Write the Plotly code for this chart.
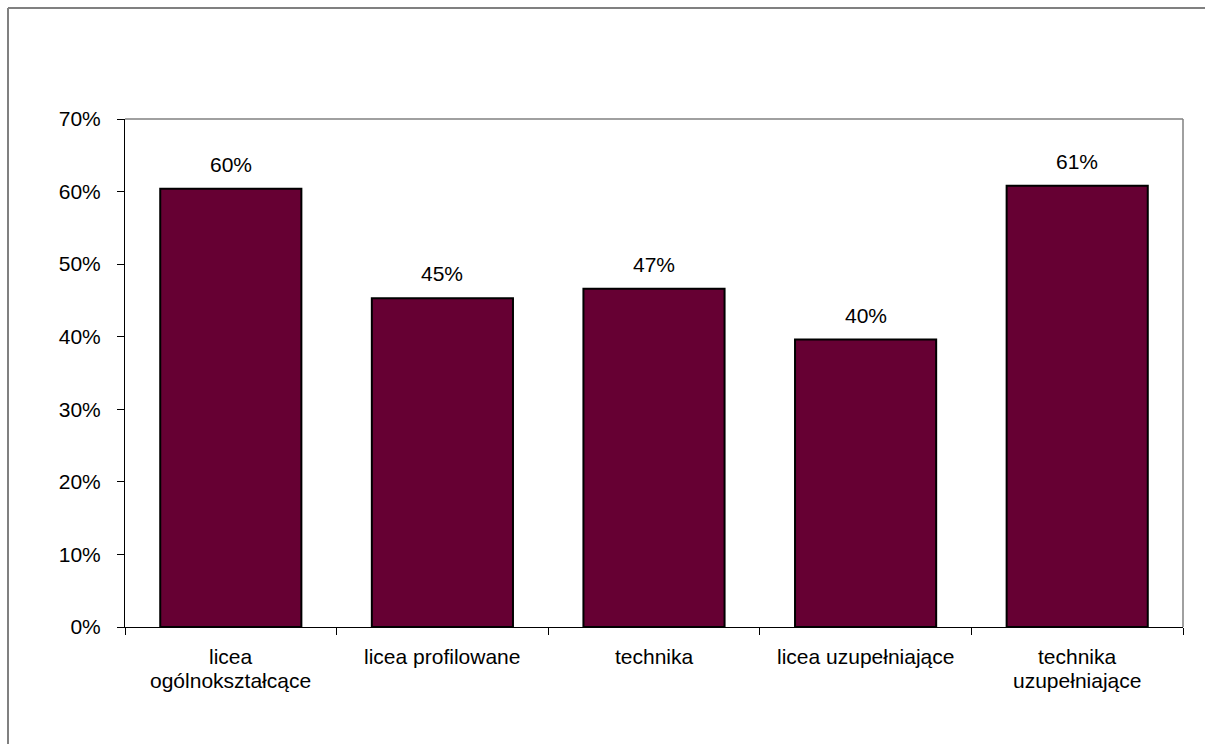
import plotly.graph_objects as go

# Share of students per school type
categories = [
    "licea<br>ogólnokształcące",
    "licea profilowane",
    "technika",
    "licea uzupełniające",
    "technika<br>uzupełniające",
]
shares = [0.604, 0.453, 0.466, 0.396, 0.608]
y_ticks = [0.0, 0.1, 0.2, 0.3, 0.4, 0.5, 0.6, 0.7]

W, H = 1205, 744
ML, MR, MT, MB = 125, 22, 119, 117
PW, PH = W - ML - MR, H - MT - MB

FONT = dict(family="Liberation Sans, Arial, sans-serif", size=21, color="#000000")

fig = go.Figure(
    go.Bar(
        x=categories,
        y=shares,
        marker=dict(color="#660033", line=dict(color="#000000", width=2)),
        width=0.667,
        hoverinfo="skip",
    )
)

# value labels above the bars
for cat, v in zip(categories, shares):
    fig.add_annotation(
        x=cat, y=v, text=f"{round(v * 100)}%", showarrow=False,
        yanchor="bottom", yshift=11, font=FONT,
    )

# category labels below the axis, one annotation per line for tight spacing
LINE_STEP = 24
for cat in categories:
    for i, line in enumerate(cat.split("<br>")):
        fig.add_annotation(
            x=cat, y=0, yref="y", text=line, showarrow=False,
            yanchor="middle", yshift=-(29 + i * LINE_STEP), font=FONT,
        )

def px_x(p):
    return (p - ML) / PW

def px_y(p):
    return (H - MB - p) / PH

shapes = [
    # plot-area frame, top and right edges
    dict(type="line", xref="paper", yref="paper", x0=0, x1=1, y0=1, y1=1,
         line=dict(color="#808080", width=1.5)),
    dict(type="line", xref="paper", yref="paper", x0=1, x1=1, y0=0, y1=1,
         line=dict(color="#808080", width=1.5)),
    # chart-area frame
    dict(type="line", xref="paper", yref="paper", x0=px_x(8), x1=px_x(8),
         y0=px_y(8), y1=px_y(H + 20), line=dict(color="#808080", width=2)),
    dict(type="line", xref="paper", yref="paper", x0=px_x(8), x1=px_x(W + 20),
         y0=px_y(8), y1=px_y(8), line=dict(color="#808080", width=2)),
]

fig.update_layout(
    width=W, height=H,
    margin=dict(l=ML, r=MR, t=MT, b=MB),
    paper_bgcolor="white", plot_bgcolor="white",
    font=FONT, showlegend=False, shapes=shapes,
    xaxis=dict(
        type="category", tickson="boundaries", ticks="outside", ticklen=7,
        tickcolor="#000000", showline=True, linecolor="#000000", linewidth=1,
        showgrid=False, showticklabels=False, range=[-0.5, 4.5],
    ),
    yaxis=dict(
        range=[0, 0.7], tickvals=y_ticks, tickformat=".0%", ticks="outside",
        ticklen=7, tickcolor="#000000", showline=True, linecolor="#000000",
        linewidth=1, showgrid=False, zeroline=False, tickfont=FONT,
        ticklabelstandoff=12,
    ),
)

fig.write_html("out.html")
